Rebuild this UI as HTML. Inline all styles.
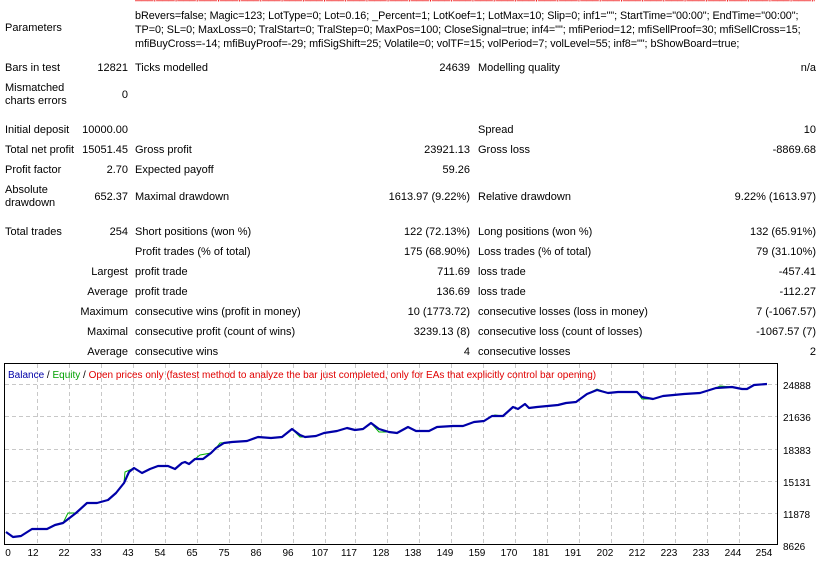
<!DOCTYPE html>
<html><head><meta charset="utf-8"><style>
*{margin:0;padding:0}
body{width:832px;height:567px;background:#fff;position:relative;overflow:hidden;font-family:"Liberation Sans",sans-serif;font-size:11px;color:#000}
.t{position:absolute;white-space:nowrap;line-height:13px}
.r{text-align:right}
</style></head><body>
<div class="t" style="left:135px;top:-10px;width:680px;overflow:hidden;color:#e00">___|___|___|___|___|___|___|___|___|___|___|___|___|___|___|___|___|___|___|___|___|___|___|___|___|___|___|___|___|___|___|___|___|___|___|___|___|___|___|___|___|___|___|___|___|___|___|___</div>
<div class="t" style="left:135px;top:9px;line-height:14px;font-size:10.8px;letter-spacing:-0.05px">bRevers=false; Magic=123; LotType=0; Lot=0.16; _Percent=1; LotKoef=1; LotMax=10; Slip=0; inf1=""; StartTime="00:00"; EndTime="00:00";<br>TP=0; SL=0; MaxLoss=0; TralStart=0; TralStep=0; MaxPos=100; CloseSignal=true; inf4=""; mfiPeriod=12; mfiSellProof=30; mfiSellCross=15;<br>mfiBuyCross=-14; mfiBuyProof=-29; mfiSigShift=25; Volatile=0; volTF=15; volPeriod=7; volLevel=55; inf8=""; bShowBoard=true;</div>
<div class="t" style="left:5px;top:22px">Parameters</div>

<div class="t" style="left:5px;top:62px">Bars in test</div>
<div class="t r" style="right:704px;top:62px">12821</div>
<div class="t" style="left:135px;top:62px">Ticks modelled</div>
<div class="t r" style="right:362px;top:62px">24639</div>
<div class="t" style="left:478px;top:62px">Modelling quality</div>
<div class="t r" style="right:16px;top:62px">n/a</div>

<div class="t" style="left:5px;top:82px">Mismatched<br>charts errors</div>
<div class="t r" style="right:704px;top:89px">0</div>

<div class="t" style="left:5px;top:124px">Initial deposit</div>
<div class="t r" style="right:704px;top:124px">10000.00</div>
<div class="t" style="left:478px;top:124px">Spread</div>
<div class="t r" style="right:16px;top:124px">10</div>

<div class="t" style="left:5px;top:144px">Total net profit</div>
<div class="t r" style="right:704px;top:144px">15051.45</div>
<div class="t" style="left:135px;top:144px">Gross profit</div>
<div class="t r" style="right:362px;top:144px">23921.13</div>
<div class="t" style="left:478px;top:144px">Gross loss</div>
<div class="t r" style="right:16px;top:144px">-8869.68</div>

<div class="t" style="left:5px;top:164px">Profit factor</div>
<div class="t r" style="right:704px;top:164px">2.70</div>
<div class="t" style="left:135px;top:164px">Expected payoff</div>
<div class="t r" style="right:362px;top:164px">59.26</div>

<div class="t" style="left:5px;top:184px">Absolute<br>drawdown</div>
<div class="t r" style="right:704px;top:191px">652.37</div>
<div class="t" style="left:135px;top:191px">Maximal drawdown</div>
<div class="t r" style="right:362px;top:191px">1613.97 (9.22%)</div>
<div class="t" style="left:478px;top:191px">Relative drawdown</div>
<div class="t r" style="right:16px;top:191px">9.22% (1613.97)</div>

<div class="t" style="left:5px;top:226px">Total trades</div>
<div class="t r" style="right:704px;top:226px">254</div>
<div class="t" style="left:135px;top:226px">Short positions (won %)</div>
<div class="t r" style="right:362px;top:226px">122 (72.13%)</div>
<div class="t" style="left:478px;top:226px">Long positions (won %)</div>
<div class="t r" style="right:16px;top:226px">132 (65.91%)</div>

<div class="t" style="left:135px;top:246px">Profit trades (% of total)</div>
<div class="t r" style="right:362px;top:246px">175 (68.90%)</div>
<div class="t" style="left:478px;top:246px">Loss trades (% of total)</div>
<div class="t r" style="right:16px;top:246px">79 (31.10%)</div>

<div class="t r" style="right:704px;top:266px">Largest</div>
<div class="t" style="left:135px;top:266px">profit trade</div>
<div class="t r" style="right:362px;top:266px">711.69</div>
<div class="t" style="left:478px;top:266px">loss trade</div>
<div class="t r" style="right:16px;top:266px">-457.41</div>

<div class="t r" style="right:704px;top:286px">Average</div>
<div class="t" style="left:135px;top:286px">profit trade</div>
<div class="t r" style="right:362px;top:286px">136.69</div>
<div class="t" style="left:478px;top:286px">loss trade</div>
<div class="t r" style="right:16px;top:286px">-112.27</div>

<div class="t r" style="right:704px;top:306px">Maximum</div>
<div class="t" style="left:135px;top:306px">consecutive wins (profit in money)</div>
<div class="t r" style="right:362px;top:306px">10 (1773.72)</div>
<div class="t" style="left:478px;top:306px">consecutive losses (loss in money)</div>
<div class="t r" style="right:16px;top:306px">7 (-1067.57)</div>

<div class="t r" style="right:704px;top:326px">Maximal</div>
<div class="t" style="left:135px;top:326px">consecutive profit (count of wins)</div>
<div class="t r" style="right:362px;top:326px">3239.13 (8)</div>
<div class="t" style="left:478px;top:326px">consecutive loss (count of losses)</div>
<div class="t r" style="right:16px;top:326px">-1067.57 (7)</div>

<div class="t r" style="right:704px;top:346px">Average</div>
<div class="t" style="left:135px;top:346px">consecutive wins</div>
<div class="t r" style="right:362px;top:346px">4</div>
<div class="t" style="left:478px;top:346px">consecutive losses</div>
<div class="t r" style="right:16px;top:346px">2</div>

<svg style="position:absolute;left:0;top:0" width="832" height="567">
<rect x="4.5" y="363.5" width="773" height="181" fill="#fff" stroke="#000"/>
<g stroke="#c8c8c8" stroke-dasharray="4,3" stroke-width="1">
<line x1="5" x2="777" y1="384.5" y2="384.5"/><line x1="5" x2="777" y1="416.5" y2="416.5"/><line x1="5" x2="777" y1="449.5" y2="449.5"/><line x1="5" x2="777" y1="481.5" y2="481.5"/><line x1="5" x2="777" y1="513.5" y2="513.5"/>
<line x1="37.5" x2="37.5" y1="364" y2="544"/><line x1="69.5" x2="69.5" y1="364" y2="544"/><line x1="101.5" x2="101.5" y1="364" y2="544"/><line x1="133.5" x2="133.5" y1="364" y2="544"/><line x1="165.5" x2="165.5" y1="364" y2="544"/><line x1="197.5" x2="197.5" y1="364" y2="544"/><line x1="229.5" x2="229.5" y1="364" y2="544"/><line x1="261.5" x2="261.5" y1="364" y2="544"/><line x1="293.5" x2="293.5" y1="364" y2="544"/><line x1="325.5" x2="325.5" y1="364" y2="544"/><line x1="355.5" x2="355.5" y1="364" y2="544"/><line x1="387.5" x2="387.5" y1="364" y2="544"/><line x1="419.5" x2="419.5" y1="364" y2="544"/><line x1="451.5" x2="451.5" y1="364" y2="544"/><line x1="483.5" x2="483.5" y1="364" y2="544"/><line x1="515.5" x2="515.5" y1="364" y2="544"/><line x1="547.5" x2="547.5" y1="364" y2="544"/><line x1="579.5" x2="579.5" y1="364" y2="544"/><line x1="611.5" x2="611.5" y1="364" y2="544"/><line x1="643.5" x2="643.5" y1="364" y2="544"/><line x1="675.5" x2="675.5" y1="364" y2="544"/><line x1="707.5" x2="707.5" y1="364" y2="544"/><line x1="739.5" x2="739.5" y1="364" y2="544"/>
</g>
<polyline fill="none" stroke="#00b000" stroke-width="1" points="6,532 13,537 21,536 32,529 47,529 55,525 63,523 68,513 76,513 87,503 97,503 108,500 116,493 124,483 125,472 134,468 142,473 150,469 158,466 168,466 175,469 182,463 185,462 189,464 195,459 200,455 211,453 216,448 220,443 232,442 247,441 258,437 271,438 282,437 292,429 300,437 305,437 316,436 324,433 337,431 347,428 355,430 363,429 371,423 379,432 389,432 397,433 408,427 416,431 429,431 437,427 453,426 463,426 474,422 484,421 492,416 495,415 503,416 513,407 518,409 525,404 529,408 537,407 558,405 566,403 576,402 587,394 597,389 608,393 618,392 637,392 642,399 653,399 663,396 684,394 700,393 716,388 720,386 732,387 742,389 747,389 754,385 767,384"/>
<polyline fill="none" stroke="#0000a8" stroke-width="2.2" stroke-linejoin="round" points="6,532 13,537 21,536 32,529 47,529 55,525 63,523 76,513 87,503 97,503 108,500 116,493 124,483 129,472 134,468 142,473 150,469 158,466 168,466 175,469 182,463 185,462 189,464 195,459 203,459 211,453 216,448 224,443 232,442 247,441 258,437 271,438 282,437 292,429 300,435 305,437 316,436 324,433 337,431 347,428 355,430 363,429 371,423 379,429 389,432 397,433 408,427 416,431 429,431 437,427 453,426 463,426 474,422 484,421 492,416 503,416 513,407 518,409 525,404 529,408 537,407 558,405 566,403 576,402 587,394 597,390 608,393 618,392 637,392 642,397 653,399 663,396 684,394 700,393 716,388 732,387 742,389 747,389 754,385 767,384"/>
<text x="8" y="378" font-family="Liberation Sans" font-size="10"><tspan fill="#0000a8">Balance</tspan><tspan fill="#000"> / </tspan><tspan fill="#00a000">Equity</tspan><tspan fill="#000"> / </tspan><tspan fill="#e00000">Open prices only (fastest method to analyze the bar just completed, only for EAs that explicitly control bar opening)</tspan></text>
<g font-family="Liberation Sans" font-size="10" fill="#000">
<text x="783" y="389">24888</text><text x="783" y="421">21636</text><text x="783" y="454">18383</text><text x="783" y="486">15131</text><text x="783" y="518">11878</text><text x="783" y="550">8626</text>
</g>
<g font-family="Liberation Sans" font-size="10" fill="#000" text-anchor="middle">
<text x="8" y="556">0</text><text x="33" y="556">12</text><text x="64" y="556">22</text><text x="96" y="556">33</text><text x="128" y="556">43</text><text x="160" y="556">54</text><text x="192" y="556">65</text><text x="224" y="556">75</text><text x="256" y="556">86</text><text x="288" y="556">96</text><text x="320" y="556">107</text><text x="349" y="556">117</text><text x="381" y="556">128</text><text x="413" y="556">138</text><text x="445" y="556">149</text><text x="477" y="556">159</text><text x="509" y="556">170</text><text x="541" y="556">181</text><text x="573" y="556">191</text><text x="605" y="556">202</text><text x="637" y="556">212</text><text x="669" y="556">223</text><text x="701" y="556">233</text><text x="733" y="556">244</text><text x="764" y="556">254</text>
</g>
</svg>
</body></html>
